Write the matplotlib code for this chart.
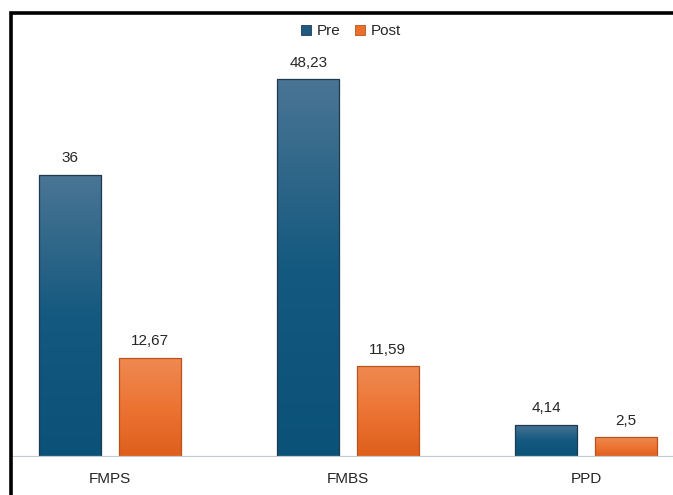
import numpy as np
import matplotlib
matplotlib.use("Agg")
import matplotlib.pyplot as plt
from matplotlib.patches import Rectangle, Patch
from matplotlib.colors import LinearSegmentedColormap

plt.rcParams['font.family'] = ['Liberation Sans', 'DejaVu Sans']

categories = ["FMPS", "FMBS", "PPD"]
pre_values = [36, 48.23, 4.14]
post_values = [12.67, 11.59, 2.5]
pre_labels = ["36", "48,23", "4,14"]
post_labels = ["12,67", "11,59", "2,5"]
series_names = ["Pre", "Post"]

W, H = 673, 495
fig = plt.figure(figsize=(W / 100, H / 100), dpi=100)
fig.patch.set_facecolor("white")

# plot area: baseline near the bottom, right side runs to the edge
ax = fig.add_axes([12 / W, (H - 457) / H, 1 - 12 / W, (457 - 20) / H])
px_per_unit = 7.83
ax.axis("off")

blue_cmap = LinearSegmentedColormap.from_list("blue", ["#0b5278", "#14597f", "#4a7594"])
orange_cmap = LinearSegmentedColormap.from_list("orange", ["#df5e1c", "#ec7433", "#ef8a52"])

x = np.arange(len(categories))
width = 0.262
offset = 0.167

def gradient_bars(xpos, vals, cmap, edge):
    bars = ax.bar(xpos, vals, width, color="none", edgecolor=edge, linewidth=0.9, zorder=3)
    grad = np.linspace(0, 1, 256).reshape(-1, 1)
    for b in bars:
        x0, y0 = b.get_x(), b.get_y()
        w, h = b.get_width(), b.get_height()
        im = ax.imshow(grad, cmap=cmap, origin="lower", aspect="auto",
                       extent=[x0, x0 + w, y0, y0 + h], zorder=2, interpolation="bilinear")
        im.set_clip_path(b)
    return bars

bars_pre = gradient_bars(x - offset, pre_values, blue_cmap, "#1d3a50")
bars_post = gradient_bars(x + offset, post_values, orange_cmap, "#b9521c")
ax.set_xlim((12 - 110) / 238, (673 - 110) / 238)
ax.set_ylim(0, (457 - 20) / px_per_unit)

for bars, labels in ((bars_pre, pre_labels), (bars_post, post_labels)):
    for b, lab in zip(bars, labels):
        ax.annotate(lab, (b.get_x() + b.get_width() / 2, b.get_height()),
                    xytext=(0, 7), textcoords="offset points",
                    ha="center", va="bottom", fontsize=11, color="#262626")

# baseline
ax.axhline(0, color="#bccbd6", linewidth=1.6, zorder=4)

for xi, cat in zip(x, categories):
    ax.annotate(cat, (xi, 0), xytext=(0, -15.5), textcoords="offset points",
                ha="center", va="center", fontsize=11, color="#262626")

handles = [Patch(facecolor="#1f5b80", edgecolor="#1d3a50", linewidth=0.6),
           Patch(facecolor="#eb6e2c", edgecolor="#b9521c", linewidth=0.6)]
fig.legend(handles, series_names, loc="center", bbox_to_anchor=(351 / W, 1 - 31 / H),
           ncol=2, frameon=False, fontsize=11, handlelength=0.65, handleheight=0.65,
           handletextpad=0.35, columnspacing=1.0, labelcolor="#262626")

# outer frame of the chart
frame = Rectangle((11.5 / W, -0.1), 1.2, 1 - 12.5 / H + 0.1, transform=fig.transFigure,
                  fill=False, edgecolor="black", linewidth=2.6, zorder=10)
fig.patches.append(frame)

fig.savefig("out.png", dpi=100, facecolor="white")
